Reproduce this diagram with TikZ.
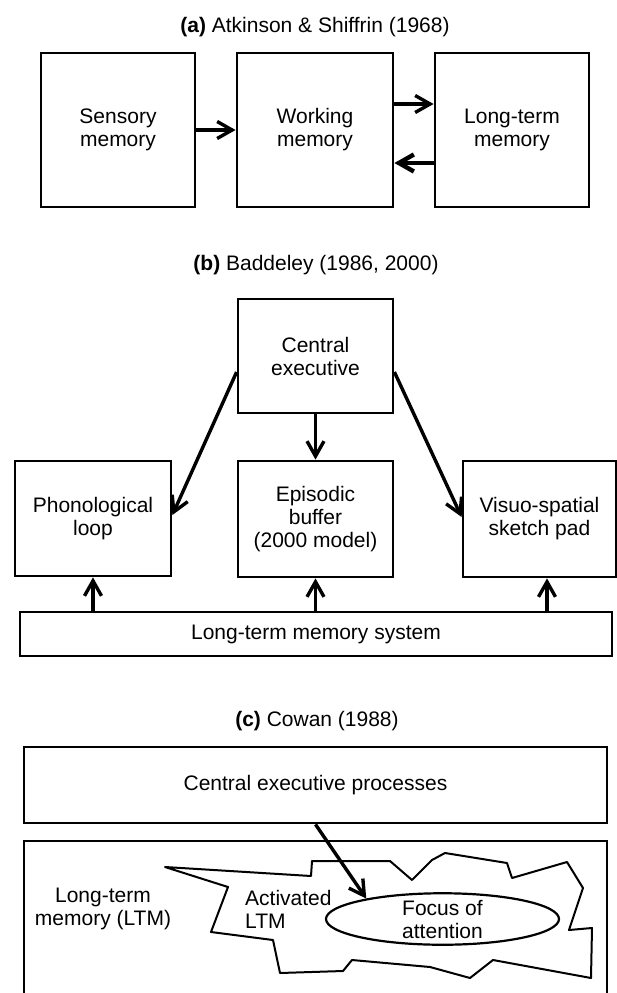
\documentclass[tikz,border=0pt]{standalone}
\usepackage{fontspec}
\setmainfont{Liberation Sans}
\usetikzlibrary{arrows.meta,shapes.geometric}

\begin{document}
\begin{tikzpicture}[x=1pt, y=-1pt,
  every node/.style={font=\fontsize{21}{23}\selectfont},
  box/.style={draw, line width=2.8pt, inner sep=0pt, align=center},
  arr/.style={line width=3.4pt, -{Straight Barb[length=15pt,width=17pt]}},
  ttl/.style={anchor=base, inner sep=0pt}]
  \useasboundingbox (0,0) rectangle (617,993);

  % (a) Atkinson & Shiffrin
  \node[ttl] (ttla) at (315,32) {\textbf{(a)} Atkinson \& Shiffrin (1968)};
  \node[box, minimum width=154pt, minimum height=154pt] (sens) at (118,130) {Sensory\\memory};
  \node[box, minimum width=156pt, minimum height=154pt] (work) at (315,130) {Working\\memory};
  \node[box, minimum width=154pt, minimum height=154pt] (ltm) at (512,130) {Long-term\\memory};

  \draw[arr] (sens.east) -- (work.west);
  \draw[arr] ([yshift=26pt]work.east) -- ([yshift=26pt]ltm.west);
  \draw[arr, line width=4.4pt] ([yshift=-33pt]ltm.west) -- ([yshift=-33pt]work.east);

  % (b) Baddeley
  \node[ttl] (ttlb) at (316,270) {\textbf{(b)} Baddeley (1986, 2000)};
  \node[box, minimum width=155pt, minimum height=114pt] (cexec) at (315.5,356) {Central\\executive};
  \node[box, minimum width=156pt, minimum height=115pt] (phon) at (93,518.5) {Phonological\\loop};
  \node[box, minimum width=155pt, minimum height=116pt] (epi) at (315.5,519) {Episodic\\buffer\\(2000 model)};
  \node[box, minimum width=153pt, minimum height=116pt] (visuo) at (539.5,519) {Visuo-spatial\\sketch pad};
  \node[box, minimum width=592pt, minimum height=44pt] (ltms) at (316,634) {Long-term memory system};

  \draw[arr] ([yshift=-16pt]cexec.west) -- ([yshift=3.5pt]phon.east);
  \draw[arr] (cexec.south) -- (epi.north);
  \draw[arr] ([yshift=-16pt]cexec.east) -- ([yshift=2pt]visuo.west);

  \coordinate (vx) at ([xshift=7.5pt]visuo.south);
  \draw[arr] (ltms.north -| phon.south) -- (phon.south);
  \draw[arr] (ltms.north -| epi.south) -- (epi.south);
  \draw[arr] (ltms.north -| vx) -- (vx);

  % (c) Cowan
  \node[ttl] (ttlc) at (317,726) {\textbf{(c)} Cowan (1988)};
  \node[box, minimum width=583pt, minimum height=76pt] (cep) at (315.5,785) {Central executive processes};
  \draw[line width=2.8pt] (24,993) -- (24,841) -- (607,841) -- (607,993);

  % activated LTM
  \draw[line width=2pt, line join=round]
    (165,867) -- (311,876) -- (312,861) -- (390,861) -- (412,880) -- (432,860)
    -- (445,853) -- (507,863) -- (512,878) -- (567,862) -- (583,888) -- (569,930)
    -- (592,928) -- (591,978) -- (493,960) -- (470,978) -- (430,967) -- (352,960)
    -- (343,971) -- (280,973) -- (273,940) -- (211,932) -- (228,887) -- cycle;

  \node[align=center] (ltmtxt) at (103,909) {Long-term\\memory (LTM)};
  \node[align=left, anchor=west, inner sep=0pt] (acttxt) at (245,909) {Activated\\LTM};
  \node[draw, ellipse, line width=2.2pt, inner ysep=-1pt, minimum width=233pt, align=center] (focus) at (442.5,919) {Focus of\\attention};

  \draw[arr] (cep.south) -- (focus.165);
\end{tikzpicture}
\end{document}
